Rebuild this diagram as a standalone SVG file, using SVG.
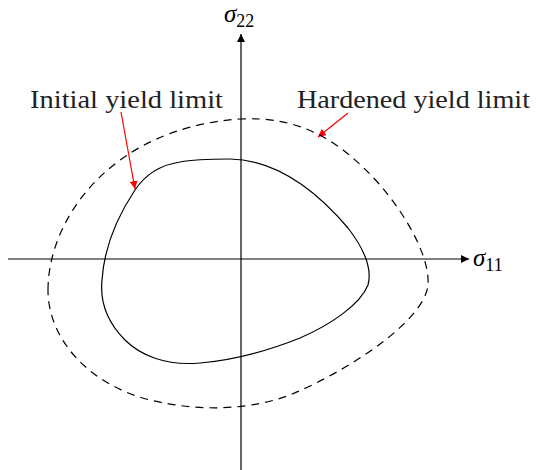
<svg xmlns="http://www.w3.org/2000/svg" width="536" height="470" viewBox="0 0 536 470">
<style>
.lbl{font-family:"Liberation Serif","Times New Roman",serif;font-size:26px;fill:#222}
.sym{font-family:"Liberation Serif","DejaVu Serif",serif;font-style:italic;font-size:25px;fill:#000}
.sub{font-family:"Liberation Serif",serif;font-style:normal;font-size:18px;fill:#000}
.ax{stroke:#000;stroke-width:1.2;fill:none}
.red{stroke:#f00;stroke-width:1.2;fill:none}
</style>
<defs>
<marker id="ah" viewBox="0 0 10 10" refX="10" refY="5" markerWidth="8" markerHeight="8" markerUnits="userSpaceOnUse" orient="auto"><path d="M0,0 L10,5 L0,10 Z" fill="#000"/></marker>
<marker id="rh" viewBox="0 0 10 10" refX="10" refY="5" markerWidth="8" markerHeight="8" markerUnits="userSpaceOnUse" orient="auto"><path d="M0,0 L10,5 L0,10 Z" fill="#f00"/></marker>
</defs>
<g id="connectors">
<line class="ax" x1="241" y1="470" x2="241" y2="34" marker-end="url(#ah)"/>
<line class="ax" x1="8" y1="259" x2="469" y2="259" marker-end="url(#ah)"/>
<line class="red" x1="121" y1="112" x2="135" y2="189" marker-end="url(#rh)"/>
<line class="red" x1="348" y1="113" x2="318" y2="137" marker-end="url(#rh)"/>
</g>
<g id="initial">
<path class="ax" d="M 135 190 C 145 175, 160 165, 180 162 C 195 159, 215 159, 230 159 C 280 160, 320 195, 348 228 C 365 250, 372 270, 368 285 C 360 305, 330 325, 300 338 C 270 350, 235 360, 200 363 C 165 366, 140 355, 125 340 C 105 320, 100 300, 102 280 C 104 250, 115 220, 135 190 Z"/>
</g>
<g id="hardened">
<path class="ax" stroke-dasharray="8 6" d="M 48 290 C 48 220, 110 128, 240 119 C 300 116, 340 140, 380 185 C 410 220, 430 260, 428 285 C 425 320, 350 370, 290 395 C 250 410, 200 412, 150 400 C 90 385, 48 340, 48 290 Z"/>
</g>
<g id="labels">
<text class="sym" x="224" y="22">σ<tspan class="sub" dy="5">22</tspan></text>
<text class="sym" x="473" y="266">σ<tspan class="sub" dy="5">11</tspan></text>
<text class="lbl" x="30" y="108" textLength="193" lengthAdjust="spacingAndGlyphs">Initial yield limit</text>
<text class="lbl" x="297" y="108" textLength="233" lengthAdjust="spacingAndGlyphs">Hardened yield limit</text>
</g>
</svg>
